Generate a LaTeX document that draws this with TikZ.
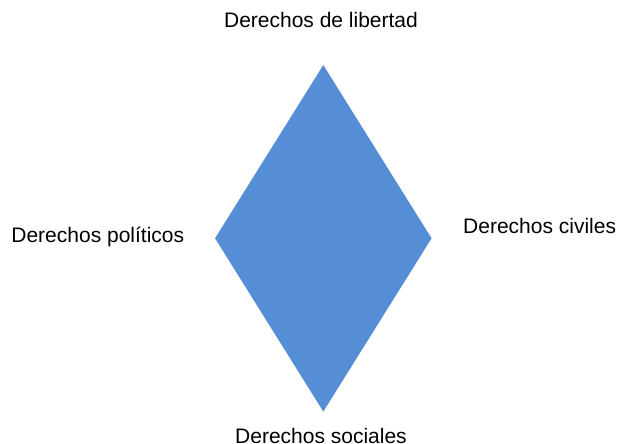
\documentclass[tikz,border=0pt]{standalone}
\usepackage{fontspec}
\setmainfont{Liberation Sans}
\usetikzlibrary{shapes,shapes.geometric,positioning}
\definecolor{rombo}{RGB}{85,142,213}
\tikzset{
  rnode/.style={diamond, fill=rombo, draw=none, inner sep=0pt, minimum width=216.7pt, minimum height=346.7pt},
  lbl/.style={font=\fontsize{21}{24}\selectfont, inner sep=0pt, anchor=base}
}
\begin{document}
\begin{tikzpicture}[x=1pt,y=-1pt]
	\useasboundingbox (0,0) rectangle (618,444);
	\node[rnode] (rombo) at (323.3,238.3) {};
	\node[lbl] (libertad) at (321,28) {Derechos de libertad};
	\node[lbl, anchor=base west] (politicos) at (11.2,242) {Derechos políticos};
	\node[lbl, anchor=base west] (civiles) at (463,233) {Derechos civiles};
	\node[lbl] (sociales) at (321,443.5) {Derechos sociales};
\end{tikzpicture}
\end{document}
